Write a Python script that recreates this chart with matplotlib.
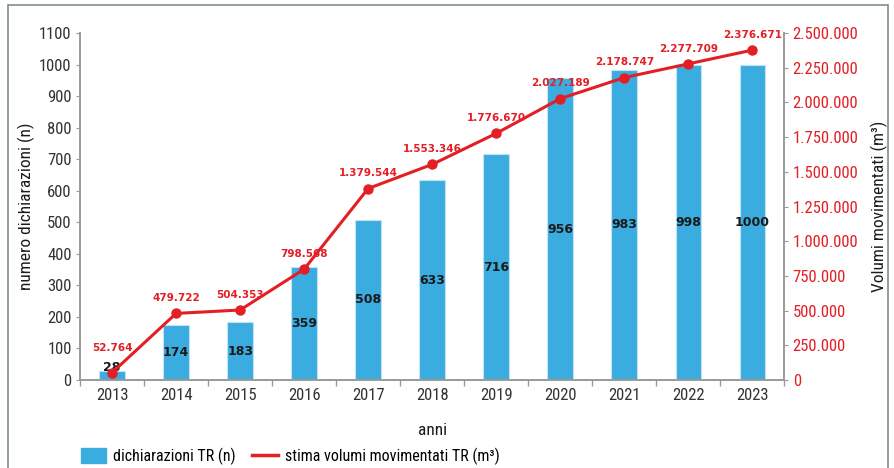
import matplotlib
matplotlib.use('Agg')
import matplotlib.pyplot as plt
from matplotlib import font_manager
from matplotlib.patches import Rectangle, Patch
from matplotlib.lines import Line2D
from matplotlib.ticker import FuncFormatter, FixedLocator, NullFormatter

# data
anni = ['2013', '2014', '2015', '2016', '2017', '2018', '2019', '2020', '2021', '2022', '2023']
dichiarazioni = [28, 174, 183, 359, 508, 633, 716, 956, 983, 998, 1000]
volumi = [52764, 479722, 504353, 798568, 1379544, 1553346, 1776670, 2027189, 2178747, 2277709, 2376671]

BLUE = '#3AACE0'
RED = '#E31E24'
GREY = '#9a9a9a'

# look for a narrow font, otherwise fall back on DejaVu Sans at smaller size
narrow = None
for fam in ['Liberation Sans Narrow', 'DejaVu Sans Condensed', 'Roboto Condensed', 'Open Sans Condensed']:
    try:
        font_manager.findfont(fam, fallback_to_default=False)
        narrow = fam
        break
    except ValueError:
        pass

if narrow:
    plt.rcParams['font.family'] = [narrow, 'DejaVu Sans']
    fs = 12
else:
    plt.rcParams['font.family'] = ['DejaVu Sans']
    fs = 10.5


def it_fmt(v, pos=None):
    # italian thousands separator
    return f'{int(round(v)):,}'.replace(',', '.')


fig = plt.figure(figsize=(8.95, 4.68), dpi=100)
ax = fig.add_axes([0.0894, 0.188, 0.787, 0.7415])
ax2 = ax.twinx()

x = list(range(len(anni)))
ax.bar(x, dichiarazioni, width=0.4, color=BLUE, edgecolor='#bfe3f5', linewidth=0.8)
ax.set_xlim(-0.5, 10.5)
ax.set_ylim(0, 1100)
ax.set_yticks(range(0, 1101, 100))

# bar labels (black bold, middle of bar)
for xi, v in zip(x, dichiarazioni):
    ax.text(xi, max(v / 2, 40), str(v), ha='center', va='center',
            fontsize=9, fontweight='bold', color='#1a1a1a', family='DejaVu Sans')

ax2.plot(x, volumi, color=RED, linewidth=2.2, marker='o', markersize=6.5)
ax2.set_ylim(0, 2500000)
ax2.set_yticks(range(0, 2500001, 250000))
ax2.yaxis.set_major_formatter(FuncFormatter(it_fmt))

for i, (xi, v) in enumerate(zip(x, volumi)):
    off = 18 if i == 0 else 11
    ax2.annotate(it_fmt(v), (xi, v), xytext=(0, off), textcoords='offset points',
                 ha='center', va='center', fontsize=7.5, fontweight='bold',
                 color=RED, family='DejaVu Sans')

# x ticks: labels at centres, tick marks at the category boundaries
ax.set_xticks(x)
ax.set_xticklabels(anni)
ax.tick_params(axis='x', which='major', length=0, pad=6)
ax.xaxis.set_minor_locator(FixedLocator([k + 0.5 for k in range(-1, 11)]))
ax.xaxis.set_minor_formatter(NullFormatter())
ax.tick_params(axis='x', which='minor', length=4, color=GREY, width=1)

for a in (ax, ax2):
    for s in a.spines.values():
        s.set_color(GREY)
        s.set_linewidth(1.2)
    a.spines['top'].set_visible(False)

ax.tick_params(axis='y', length=3, color=GREY, labelsize=fs, labelcolor='#333333', pad=3)
ax.tick_params(axis='x', labelsize=fs, labelcolor='#333333')
ax2.tick_params(axis='y', length=3, color=GREY, labelsize=fs, labelcolor=RED, pad=3)

ax.set_ylabel('numero dichiarazioni (n)', fontsize=fs + 0.5, color='#1a1a1a')
ax.yaxis.set_label_coords(-0.064, 0.5)
ax2.set_ylabel('Volumi movimentati (m³)', fontsize=fs + 0.5, color='#1a1a1a')
ax2.yaxis.set_label_coords(1.122, 0.5)
ax.set_xlabel('anni', fontsize=fs + 0.5, color='#1a1a1a', labelpad=14)

handles = [Patch(facecolor=BLUE, edgecolor=BLUE),
           Line2D([0], [0], color=RED, linewidth=2.5)]
labels = ['dichiarazioni TR (n)', 'stima volumi movimentati TR (m³)']
fig.legend(handles, labels, loc='center left', bbox_to_anchor=(0.074, 0.025),
           ncol=2, frameon=False, fontsize=fs - 0.5, handlelength=1.6,
           handleheight=1.1, columnspacing=1.0, handletextpad=0.45)

# outer frame
fig.add_artist(Rectangle((0.009, -0.02), 0.983, 1.009, transform=fig.transFigure,
                         fill=False, edgecolor='#7f917f', linewidth=1.2))

fig.savefig('out.png', dpi=100)
